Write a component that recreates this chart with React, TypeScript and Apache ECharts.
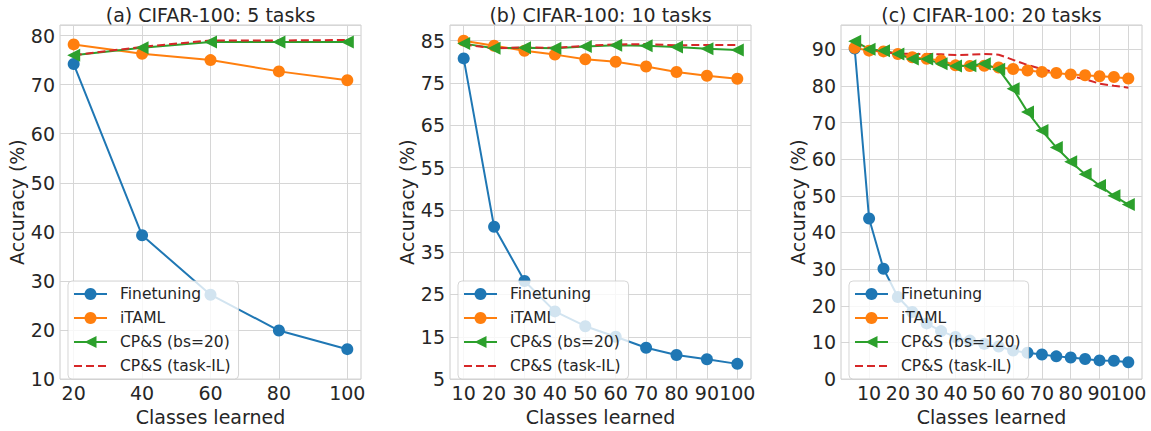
import React, { useEffect, useRef } from 'react';
import * as echarts from 'echarts';

// ---- Data ----
const xA = [20, 40, 60, 80, 100];
const aFinetuning = [74.2, 39.3, 27.2, 19.9, 16.1];
const aITAML = [78.2, 76.3, 75.0, 72.7, 70.9];
const aCPS = [76.0, 77.5, 78.7, 78.7, 78.7];
const aTaskIL = [76.0, 77.7, 79.0, 79.0, 79.1];

const xB = [10, 20, 30, 40, 50, 60, 70, 80, 90, 100];
const bFinetuning = [80.8, 41.0, 28.2, 21.0, 17.5, 15.0, 12.4, 10.7, 9.7, 8.6];
const bITAML = [85.0, 83.8, 82.6, 81.7, 80.6, 80.0, 78.9, 77.6, 76.7, 76.0];
const bCPS = [84.3, 83.2, 83.3, 83.2, 83.6, 83.9, 83.8, 83.5, 83.1, 82.8];
const bTaskIL = [84.1, 83.2, 83.4, 83.3, 83.8, 84.1, 84.2, 83.9, 84.0, 84.0];

const xC = [5, 10, 15, 20, 25, 30, 35, 40, 45, 50, 55, 60, 65, 70, 75, 80, 85, 90, 95, 100];
const cFinetuning = [90.2, 43.8, 30.1, 22.4, 18.3, 15.2, 13.1, 11.5, 10.5, 9.6, 8.9, 7.8, 7.2, 6.7, 6.2, 5.9, 5.5, 5.1, 5.0, 4.6];
const cITAML = [90.4, 89.6, 89.4, 88.7, 87.8, 87.4, 86.9, 85.6, 85.4, 85.5, 85.0, 84.6, 84.2, 83.8, 83.5, 83.1, 82.9, 82.6, 82.4, 82.0];
const cCPS = [92.2, 90.0, 89.6, 88.7, 87.3, 87.3, 86.0, 85.4, 85.5, 86.0, 84.5, 79.2, 72.9, 67.8, 63.2, 59.3, 55.9, 52.8, 50.0, 47.6];
const cTaskIL = [92.0, 89.8, 89.3, 88.8, 88.7, 88.7, 88.6, 88.4, 88.5, 88.7, 88.5, 87.1, 85.7, 84.6, 83.6, 82.7, 81.8, 80.6, 80.0, 79.5];

const xTicksA = [20, 40, 60, 80, 100];
const xTicksB = [10, 20, 30, 40, 50, 60, 70, 80, 90, 100];
const xTicksC = [10, 20, 30, 40, 50, 60, 70, 80, 90, 100];

const titles = ['(a) CIFAR-100: 5 tasks', '(b) CIFAR-100: 10 tasks', '(c) CIFAR-100: 20 tasks'];
const nameFinetuning = 'Finetuning';
const nameITAML = 'iTAML';
const nameCPS20 = 'CP&S (bs=20)';
const nameCPS120 = 'CP&S (bs=120)';
const nameTaskIL = 'CP&S (task-IL)';

const FONT = "'DejaVu Sans', sans-serif";
const TEXT = '#262626';
const GRIDLINE = '#d6d6d6';

const pairs = (xs: number[], ys: number[]) => xs.map((x, i) => [x, ys[i]]);

export default function App() {
  const ref = useRef<HTMLDivElement>(null);

  useEffect(() => {
    if (!ref.current) return;
    const chart = echarts.init(ref.current, null, { renderer: 'svg' });

    const panels = [
      { left: 60, xs: xA, ft: aFinetuning, it: aITAML, cps: aCPS, cpsName: nameCPS20, til: aTaskIL, xmin: 16, xmax: 104, xticks: xTicksA, ymin: 10, ymax: 82.15, yint: 10, nameGap: 31, legendLeft: 68 },
      { left: 450, xs: xB, ft: bFinetuning, it: bITAML, cps: bCPS, cpsName: nameCPS20, til: bTaskIL, xmin: 5.5, xmax: 104.5, xticks: xTicksB, ymin: 5, ymax: 88.7, yint: 10, nameGap: 29, legendLeft: 458 },
      { left: 841, xs: xC, ft: cFinetuning, it: cITAML, cps: cCPS, cpsName: nameCPS120, til: cTaskIL, xmin: 0.25, xmax: 104.75, xticks: xTicksC, ymin: 0, ymax: 96.6, yint: 10, nameGap: 30, legendLeft: 849 },
    ];

    const grid: any[] = [];
    const xAxis: any[] = [];
    const yAxis: any[] = [];
    const series: any[] = [];
    const legend: any[] = [];
    const title: any[] = [];

    panels.forEach((p, i) => {
      grid.push({ left: p.left, top: 25, width: 301, height: 360, show: true, borderColor: '#cccccc', borderWidth: 1, backgroundColor: 'transparent' });
      title.push({
        text: titles[i],
        left: p.left + 150.5,
        textAlign: 'center',
        top: 5,
        padding: 0,
        textStyle: { fontFamily: FONT, fontSize: 19, fontWeight: 'normal', color: TEXT },
      });
      // an extra blank label at the axis end keeps ECharts from hiding the
      // crowded "90" / "100" pair at the right edge
      const labelValues = [...p.xticks, p.xmax];
      const tickSet = p.xticks;
      xAxis.push({
        type: 'value',
        gridIndex: i,
        min: p.xmin,
        max: p.xmax,
        axisLine: { show: false },
        axisTick: { show: false, customValues: p.xticks },
        axisLabel: {
          customValues: labelValues,
          formatter: (v: number) => (tickSet.indexOf(v) >= 0 ? String(v) : ''),
          fontFamily: FONT, fontSize: 19, color: TEXT, margin: 4,
          showMaxLabel: false, showMinLabel: true,
        },
        splitLine: { show: true, lineStyle: { color: GRIDLINE, width: 1 } },
        name: 'Classes learned',
        nameLocation: 'middle',
        nameGap: 22,
        nameTextStyle: { fontFamily: FONT, fontSize: 19, color: TEXT, verticalAlign: 'top' },
      });
      yAxis.push({
        type: 'value',
        gridIndex: i,
        min: p.ymin,
        max: p.ymax,
        interval: p.yint,
        axisLine: { show: false },
        axisTick: { show: false },
        axisLabel: { fontFamily: FONT, fontSize: 19, color: TEXT, margin: 5, showMaxLabel: false },
        splitLine: { show: true, lineStyle: { color: GRIDLINE, width: 1 } },
        name: 'Accuracy (%)',
        nameLocation: 'middle',
        nameGap: p.nameGap,
        nameTextStyle: { fontFamily: FONT, fontSize: 19, color: TEXT },
      });
      series.push(
        {
          name: nameFinetuning, type: 'line', xAxisIndex: i, yAxisIndex: i,
          data: pairs(p.xs, p.ft), color: '#1f77b4', symbol: 'circle', symbolSize: 12,
          lineStyle: { width: 2 }, silent: true,
        },
        {
          name: nameITAML, type: 'line', xAxisIndex: i, yAxisIndex: i,
          data: pairs(p.xs, p.it), color: '#ff7f0e', symbol: 'circle', symbolSize: 12,
          lineStyle: { width: 2 }, silent: true,
        },
        {
          name: p.cpsName, type: 'line', xAxisIndex: i, yAxisIndex: i,
          data: pairs(p.xs, p.cps), color: '#2ca02c', symbol: 'triangle', symbolRotate: 90, symbolSize: 13,
          lineStyle: { width: 2 }, silent: true,
        },
        {
          name: nameTaskIL, type: 'line', xAxisIndex: i, yAxisIndex: i,
          data: pairs(p.xs, p.til), color: '#d62728', symbol: 'none',
          lineStyle: { width: 2, type: [8, 4] }, silent: true,
        }
      );
      legend.push({
        data: [nameFinetuning, nameITAML, p.cpsName, { name: nameTaskIL, itemStyle: { opacity: 0 } }],
        orient: 'vertical',
        left: p.legendLeft,
        top: 281,
        itemWidth: 33,
        itemHeight: 15,
        itemGap: 8,
        padding: [5, 8, 5, 5],
        backgroundColor: 'rgba(255,255,255,0.8)',
        borderColor: 'rgba(204,204,204,0.8)',
        borderWidth: 1,
        borderRadius: 4,
        selectedMode: false,
        textStyle: { fontFamily: FONT, fontSize: 15.5, color: TEXT, padding: [0, 0, 0, 8] },
      });
    });

    chart.setOption({
      animation: false,
      backgroundColor: '#ffffff',
      textStyle: { fontFamily: FONT },
      title,
      grid,
      xAxis,
      yAxis,
      legend,
      series,
    });

    return () => chart.dispose();
  }, []);

  return <div ref={ref} style={{ position: 'absolute', left: 0, top: 0, width: 1151, height: 431 }} />;
}
